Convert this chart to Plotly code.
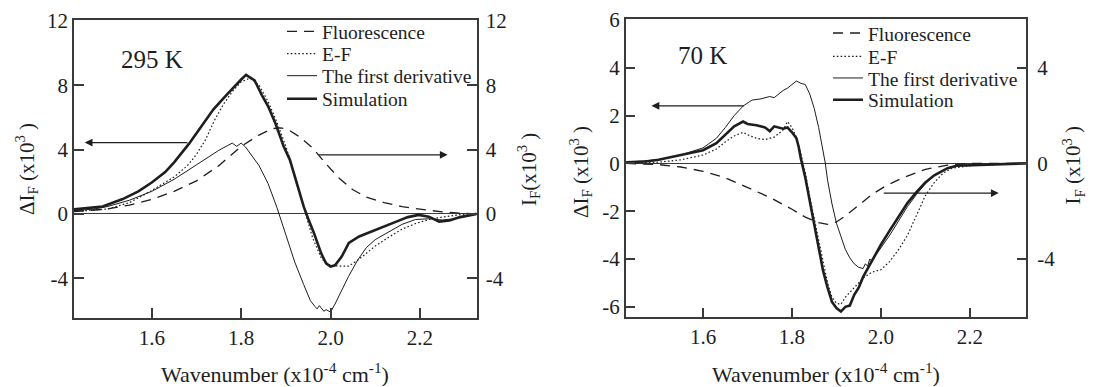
import plotly.graph_objects as go

W, H = 1093, 387

# ---------------- data: 295 K panel ----------------
x295_sim = [1.426, 1.45, 1.49, 1.535, 1.57, 1.60, 1.63, 1.65, 1.683, 1.71, 1.738, 1.769, 1.79, 1.80, 1.811, 1.82, 1.83,
            1.846, 1.86, 1.877, 1.895, 1.909, 1.92, 1.932, 1.94, 1.95, 1.963, 1.979, 1.99, 2.00, 2.01,
            2.025, 2.041, 2.064, 2.09, 2.119, 2.15, 2.173, 2.197, 2.22, 2.243, 2.266, 2.29, 2.327]
y295_sim = [0.28, 0.35, 0.46, 0.92, 1.4, 1.95, 2.6, 3.2, 4.35, 5.4, 6.5, 7.45, 8.1, 8.35, 8.64, 8.5, 8.3,
            7.4, 6.7, 5.6, 4.2, 3.36, 2.3, 1.28, 0.45, -0.3, -1.2, -2.45, -3.07, -3.27, -3.2,
            -2.65, -1.8, -1.4, -1.1, -0.8, -0.45, -0.2, -0.06, -0.17, -0.48, -0.41, -0.2, 0.0]

x295_ef = [1.426, 1.50, 1.55, 1.60, 1.65, 1.68, 1.70, 1.72, 1.74, 1.76, 1.78, 1.80, 1.82, 1.84, 1.86,
           1.88, 1.90, 1.92, 1.94, 1.96, 1.98, 2.00, 2.02, 2.04, 2.06, 2.08, 2.10, 2.13, 2.16,
           2.19, 2.22, 2.25, 2.29, 2.327]
y295_ef = [0.15, 0.3, 0.7, 1.45, 2.3, 3.0, 3.7, 4.6, 5.8, 6.8, 7.6, 8.2, 8.45, 8.0, 7.0,
           5.7, 4.2, 2.4, 0.4, -1.5, -2.8, -3.2, -3.25, -3.25, -2.9, -2.45, -2.0, -1.45, -0.95,
           -0.6, -0.35, -0.2, -0.05, 0.0]

x295_der = [1.426, 1.47, 1.50, 1.55, 1.60, 1.65, 1.70, 1.73, 1.75, 1.77, 1.78, 1.79, 1.80, 1.81, 1.82,
            1.84, 1.86, 1.88, 1.90, 1.92, 1.94, 1.955, 1.965, 1.97, 1.975, 1.985, 1.99, 2.00, 2.01,
            2.02, 2.04, 2.06, 2.08, 2.10, 2.13, 2.16, 2.19, 2.22, 2.25, 2.28, 2.327]
y295_der = [0.2, 0.3, 0.45, 0.85, 1.4, 2.15, 3.05, 3.6, 3.95, 4.25, 4.4, 4.2, 4.4, 4.15, 3.75,
            3.0, 1.9, 0.4, -1.3, -3.0, -4.4, -5.4, -5.75, -5.9, -5.7, -6.05, -5.95, -6.1, -5.6,
            -5.0, -3.9, -2.9, -2.1, -1.6, -1.1, -0.65, -0.35, -0.3, -0.38, -0.3, 0.0]

x295_fl = [1.426, 1.50, 1.55, 1.60, 1.65, 1.70, 1.75, 1.80, 1.84, 1.87, 1.89, 1.91, 1.93, 1.96,
           1.99, 2.02, 2.05, 2.08, 2.12, 2.16, 2.20, 2.25, 2.29, 2.327]
y295_fl = [0.15, 0.3, 0.55, 0.9, 1.4, 2.05, 3.0, 4.2, 4.9, 5.3, 5.35, 5.15, 4.8, 4.1,
           3.1, 2.2, 1.5, 1.05, 0.7, 0.45, 0.3, 0.12, 0.05, 0.0]

# ---------------- data: 70 K panel ----------------
x70_sim = [1.427, 1.47, 1.50, 1.55, 1.60, 1.63, 1.65, 1.67, 1.69, 1.70, 1.72, 1.74, 1.75, 1.76, 1.78,
           1.79, 1.80, 1.81, 1.815, 1.82, 1.83, 1.84, 1.85, 1.86, 1.87, 1.88, 1.89, 1.90, 1.91,
           1.92, 1.93, 1.94, 1.95, 1.96, 1.97, 1.98, 2.00, 2.02, 2.04, 2.06, 2.08, 2.10, 2.12,
           2.15, 2.17, 2.20, 2.25, 2.29, 2.326]
y70_sim = [0.05, 0.08, 0.15, 0.35, 0.55, 0.85, 1.2, 1.55, 1.75, 1.65, 1.6, 1.5, 1.35, 1.55, 1.45,
           1.5, 1.3, 1.05, 0.7, 0.2, -0.6, -1.6, -2.5, -3.5, -4.5, -5.2, -5.8, -6.05, -6.2,
           -6.0, -5.95, -5.5, -5.2, -4.75, -4.4, -4.1, -3.4, -2.8, -2.2, -1.65, -1.2, -0.8, -0.5,
           -0.2, -0.1, -0.08, -0.05, 0.0, 0.0]

x70_ef = [1.427, 1.50, 1.55, 1.60, 1.63, 1.65, 1.67, 1.69, 1.70, 1.72, 1.74, 1.76, 1.78, 1.79, 1.80,
          1.81, 1.82, 1.83, 1.84, 1.85, 1.86, 1.87, 1.88, 1.89, 1.90, 1.91, 1.92, 1.94, 1.96,
          1.98, 2.00, 2.02, 2.04, 2.06, 2.08, 2.10, 2.12, 2.14, 2.16, 2.20, 2.25, 2.326]
y70_ef = [0.0, 0.05, 0.15, 0.35, 0.6, 0.9, 1.15, 1.3, 1.2, 1.05, 1.0, 1.1, 1.4, 1.75, 1.5,
          1.1, 0.4, -0.4, -1.4, -2.3, -3.3, -4.2, -5.0, -5.6, -5.85, -5.9, -5.6, -5.2, -4.8,
          -4.55, -4.45, -4.1, -3.6, -3.0, -2.2, -1.35, -0.8, -0.4, -0.2, -0.1, -0.05, 0.0]

x70_der = [1.427, 1.50, 1.55, 1.60, 1.63, 1.65, 1.67, 1.69, 1.71, 1.73, 1.75, 1.76, 1.78, 1.79, 1.80,
           1.81, 1.82, 1.83, 1.84, 1.85, 1.86, 1.87, 1.875, 1.88, 1.89, 1.90, 1.91, 1.92, 1.93,
           1.94, 1.95, 1.96, 1.965, 1.97, 1.975, 1.98, 1.99, 2.00, 2.02, 2.04, 2.06, 2.08, 2.10,
           2.12, 2.15, 2.18, 2.22, 2.326]
y70_der = [0.05, 0.15, 0.35, 0.65, 1.05, 1.5, 2.0, 2.4, 2.65, 2.7, 2.8, 2.75, 3.05, 3.15, 3.3,
           3.45, 3.35, 3.3, 2.9, 2.3, 1.5, 0.6, 0.0, -0.7, -1.7, -2.5, -3.1, -3.6, -3.95,
           -4.2, -4.35, -4.4, -4.2, -4.3, -4.0, -4.1, -3.8, -3.55, -3.0, -2.4, -1.8, -1.3, -0.85,
           -0.5, -0.2, -0.08, -0.05, 0.0]

x70_fl = [1.427, 1.50, 1.55, 1.60, 1.65, 1.70, 1.75, 1.80, 1.83, 1.86, 1.88, 1.90, 1.92, 1.95,
          1.98, 2.01, 2.05, 2.10, 2.15, 2.20, 2.326]
y70_fl = [0.0, -0.05, -0.15, -0.33, -0.6, -1.0, -1.42, -1.92, -2.25, -2.48, -2.55, -2.45, -2.2, -1.75,
          -1.3, -0.95, -0.6, -0.25, -0.07, 0.0, 0.0]

# ---------------- axes / labels ----------------
series_names = ["Fluorescence", "E-F", "The first derivative", "Simulation"]
x_ticks = [1.6, 1.8, 2.0, 2.2]
x_ticktext = ["1.6", "1.8", "2.0", "2.2"]
y295_ticks = [-4, 0, 4, 8, 12]
y295_ticktext = ["-4", "0", "4", "8", "12"]
y70_left_ticks = [-6, -4, -2, 0, 2, 4, 6]
y70_left_ticktext = ["-6", "-4", "-2", "0", "2", "4", "6"]
y70_right_ticks = [-4, 0, 4]
y70_right_ticktext = ["-4", "0", "4"]
x_range = [1.426, 2.327]
y295_range = [-6.47, 12.05]
y70_range = [-6.44, 6.03]
panel_labels = ["295 K", "70 K"]
panel_label_pos = [(1.601, 9.62), (1.598, 4.53)]
# arrows: (head_x, tail_x, y)
arrows295 = [(1.450, 1.683, 4.43), (2.262, 1.971, 3.67)]
arrows70 = [(1.484, 1.695, 2.41), (2.265, 2.003, -1.24)]

SERIF = "Liberation Serif"
INK = "#1e1e1e"
AX = "#3a3a3a"

styles = [dict(dash="10px,7px", width=1.3),
          dict(dash="1.6px,2.2px", width=1.2),
          dict(dash="solid", width=1.0),
          dict(dash="solid", width=2.6)]

fig = go.Figure()

def add_panel(xs, ys, xa, ya_left, ya_right, legend_ids):
    for i, (x, y) in enumerate(zip(xs, ys)):
        fig.add_trace(go.Scatter(
            x=x, y=y, mode="lines", name=series_names[i],
            xaxis=xa, yaxis=(ya_right if i == 0 else ya_left),
            line=dict(color=INK, width=styles[i]["width"], dash=styles[i]["dash"]),
            legend=legend_ids[i], showlegend=True, hoverinfo="skip"))

add_panel([x295_fl, x295_ef, x295_der, x295_sim], [y295_fl, y295_ef, y295_der, y295_sim],
          "x", "y", "y2", ["legend", "legend2", "legend3", "legend4"])
add_panel([x70_fl, x70_ef, x70_der, x70_sim], [y70_fl, y70_ef, y70_der, y70_sim],
          "x2", "y3", "y4", ["legend5", "legend6", "legend7", "legend8"])

tickfont = dict(family=SERIF, size=21, color=INK)
common = dict(showline=True, linecolor=AX, linewidth=1.5, ticks="inside", ticklen=10,
              tickwidth=1.5, tickcolor=AX, showgrid=False, zeroline=False, tickfont=tickfont,
              automargin=False)

L_X = [74 / W, 476.7 / W]
R_X = [625.7 / W, 1026.3 / W]
L_Y = [1 - 318 / H, 1 - 20 / H]
R_Y = [1 - 317.3 / H, 1 - 19.3 / H]

fig.update_layout(
    width=W, height=H, margin=dict(l=0, r=0, t=0, b=0, pad=0, autoexpand=False),
    paper_bgcolor="white", plot_bgcolor="white",
    xaxis=dict(common, domain=L_X, range=x_range, anchor="y", mirror=True,
               tickvals=x_ticks, ticktext=x_ticktext),
    yaxis=dict(common, domain=L_Y, range=y295_range, anchor="x", tickvals=y295_ticks,
               ticktext=y295_ticktext, zeroline=True, zerolinecolor=AX, zerolinewidth=1.3),
    yaxis2=dict(common, range=y295_range, anchor="x", overlaying="y", side="right",
                tickvals=y295_ticks, ticktext=y295_ticktext, ticklabelstandoff=3),
    xaxis2=dict(common, domain=R_X, range=x_range, anchor="y3", mirror=True,
                tickvals=x_ticks, ticktext=x_ticktext),
    yaxis3=dict(common, domain=R_Y, range=y70_range, anchor="x2", tickvals=y70_left_ticks,
                ticktext=y70_left_ticktext, zeroline=True, zerolinecolor=AX, zerolinewidth=1.3),
    yaxis4=dict(common, range=y70_range, anchor="x2", overlaying="y3", side="right",
                tickvals=y70_right_ticks, ticktext=y70_right_ticktext, ticklabelstandoff=5),
    showlegend=True,
)

# one legend per entry so rows sit at the reference spacing
leg_rows_left = [31.7, 54.0, 76.0, 99.0]
leg_rows_right = [33.3, 56.7, 78.3, 100.0]
legfont = dict(family=SERIF, size=19.5, color=INK)
for i, yr in enumerate(leg_rows_left):
    key = "legend" if i == 0 else f"legend{i + 1}"
    fig.layout[key] = dict(x=282 / W, y=1 - yr / H, xanchor="left", yanchor="middle",
                           font=legfont, bgcolor="rgba(0,0,0,0)", borderwidth=0)
for i, yr in enumerate(leg_rows_right):
    key = f"legend{i + 5}"
    fig.layout[key] = dict(x=828 / W, y=1 - yr / H, xanchor="left", yanchor="middle",
                           font=legfont, bgcolor="rgba(0,0,0,0)", borderwidth=0)

ann = []
for (lx, ly), txt, xr, yr in zip(panel_label_pos, panel_labels, ["x", "x2"], ["y", "y3"]):
    ann.append(dict(x=lx, y=ly, xref=xr, yref=yr, text=txt, showarrow=False,
                    xanchor="center", yanchor="middle",
                    font=dict(family=SERIF, size=25, color=INK)))
for arrs, xr, yr in [(arrows295, "x", "y"), (arrows70, "x2", "y3")]:
    for hx, tx, yy in arrs:
        ann.append(dict(x=hx, y=yy, ax=tx, ay=yy, xref=xr, yref=yr, axref=xr, ayref=yr,
                        text="", showarrow=True, arrowhead=2, arrowsize=1.2, arrowwidth=1.3,
                        arrowcolor=INK, standoff=0, startstandoff=0))

title_font = dict(family=SERIF, size=21, color=INK)
xtitle = "Wavenumber (x10<sup>-4</sup> cm<sup>-1</sup>)"
mid = dict(showarrow=False, xref="paper", yref="paper", xanchor="center", yanchor="middle")
ann.append(dict(mid, x=275.3 / W, y=1 - 373 / H, text=xtitle,
                font=dict(family=SERIF, size=22, color=INK)))
ann.append(dict(mid, x=826 / W, y=1 - 373 / H, text=xtitle,
                font=dict(family=SERIF, size=22, color=INK)))
ann.append(dict(mid, x=27 / W, y=1 - 169 / H, textangle=-90,
                text="ΔI<sub>F</sub> (x10<sup>3</sup> )", font=title_font))
ann.append(dict(mid, x=528 / W, y=1 - 170 / H, textangle=-90,
                text="I<sub>F</sub>(x10<sup>3</sup> )", font=title_font))
ann.append(dict(mid, x=580 / W, y=1 - 172 / H, textangle=-90,
                text="ΔI<sub>F</sub> (x10<sup>3</sup> )", font=title_font))
ann.append(dict(mid, x=1073 / W, y=1 - 165.5 / H, textangle=-90,
                text="I<sub>F</sub> (x10<sup>3</sup> )", font=title_font))
fig.update_layout(annotations=ann)

fig.write_html("out.html", config={"displayModeBar": False},
               post_script="document.body.style.margin='0';document.body.style.overflow='hidden';")
